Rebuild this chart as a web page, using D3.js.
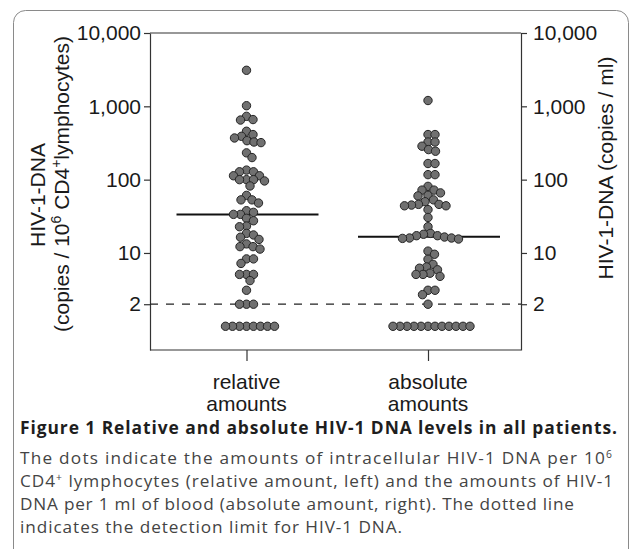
<!DOCTYPE html>
<html>
<head>
<meta charset="utf-8">
<script src="https://cdn.jsdelivr.net/npm/d3@7/dist/d3.min.js"></script>
<style>
  body { margin: 0; background: #fff; }
  svg { display: block; }
</style>
</head>
<body>
<svg id="chart" width="635" height="549"></svg>
<script>
// Values (copies, log scale)
const categories = ["relative", "absolute"];
const categoryLabels = [["relative", "amounts"], ["absolute", "amounts"]];
const relativeValues = [
  3100, 1020, 730, 660, 650, 457, 412, 390, 370, 340, 326, 320, 232, 200,
  135, 128, 128, 113, 113, 100, 100, 100, 96, 82, 61, 53, 53, 48,
  37.7, 35.8, 33.6, 33.6, 29.7, 27.5, 23.3, 22.8, 18.5, 17.6, 16.4, 15.3,
  13.3, 12.2, 12.2, 11.3, 8.3, 8.3, 7.2, 5.1, 5.1, 5.1, 4.2, 3.1, 2, 2, 2,
  1, 1, 1, 1, 1, 1, 1, 1
];
const absoluteValues = [
  1200, 412, 412, 326, 326, 286, 257, 244, 166, 166, 117, 117, 81,
  72, 72, 66, 61, 60, 53, 50, 46, 46, 45, 44, 44, 39, 30.5, 22.8,
  18.5, 18, 17.2, 17.2, 16.5, 16, 16, 15.8, 15.5,
  10.6, 9.6, 8.2, 7.0, 6.45, 6.2, 5.9, 5.3, 5.1, 5.1, 4.8, 3.1, 3.1, 2.7, 2,
  1, 1, 1, 1, 1, 1, 1, 1, 1, 1, 1, 1
];
const medians = [33.6, 16.7];
const detectionLimit = 2;
const yTickValues = [2, 10, 100, 1000, 10000];
const leftTitle = "HIV-1-DNA";
const rightTitle = "HIV-1-DNA (copies / ml)";
const captionTitle = "Figure 1 Relative and absolute HIV-1 DNA levels in all patients.";
const captionLines = [
  [["The dots indicate the amounts of intracellular HIV-1 DNA per 10"], ["6", "sup"]],
  [["CD4"], ["+", "sup"], [" lymphocytes (relative amount, left) and the amounts of HIV-1"]],
  [["DNA per 1 ml of blood (absolute amount, right). The dotted line"]],
  [["indicates the detection limit for HIV-1 DNA."]]
];

// Layout
const plotLeft = 150, plotRight = 521, plotTop = 33, plotBottom = 350;
const chartFont = "'Liberation Sans', Arial, Helvetica, sans-serif";
const captionFont = "'Open Sans', 'Noto Sans', sans-serif";
const dotR = 4.2, dotGap = 7;

let svg = d3.select("#chart");

// Outer rounded frame
svg.append("rect")
  .attr("x", 13.5).attr("y", 10.5)
  .attr("width", 615).attr("height", 560)
  .attr("rx", 12)
  .attr("fill", "none")
  .attr("stroke", "#8a8a8a")
  .attr("stroke-width", 1);

// Scales
let y = d3.scaleLog().domain([0.475, 10000]).range([plotBottom, plotTop]);
let x = d3.scalePoint().domain(categories).range([246.5, 428]);

// Plot box top line
svg.append("line")
  .attr("x1", plotLeft).attr("x2", plotRight)
  .attr("y1", plotTop).attr("y2", plotTop)
  .attr("stroke", "#333").attr("stroke-width", 1.2);

// Left axis
let leftAxis = svg.append("g")
  .attr("transform", `translate(${plotLeft},0)`)
  .call(d3.axisLeft(y).tickValues(yTickValues).tickFormat(d3.format(",")).tickSize(6).tickSizeOuter(0).tickPadding(3));

// Right axis
let rightAxis = svg.append("g")
  .attr("transform", `translate(${plotRight},0)`)
  .call(d3.axisRight(y).tickValues(yTickValues).tickFormat(d3.format(",")).tickSize(6).tickSizeOuter(0).tickPadding(6));

// Bottom axis
let bottomAxis = svg.append("g")
  .attr("transform", `translate(0,${plotBottom})`)
  .call(d3.axisBottom(x).tickSize(11).tickSizeOuter(0).tickFormat(""));
bottomAxis.select(".domain").remove();
svg.append("line")
  .attr("x1", plotLeft).attr("x2", plotRight)
  .attr("y1", plotBottom).attr("y2", plotBottom)
  .attr("stroke", "#333").attr("stroke-width", 1.2);

[leftAxis, rightAxis, bottomAxis].forEach(function (g) {
  g.selectAll("path.domain").attr("stroke", "#333").attr("stroke-width", 1.2);
  g.selectAll(".tick line").attr("stroke", "#333").attr("stroke-width", 1.2);
  g.selectAll(".tick text")
    .attr("font-family", chartFont)
    .attr("font-size", 21)
    .attr("fill", "#1a1a1a");
});

// Category labels (two lines)
categories.forEach(function (c, i) {
  let t = svg.append("text")
    .attr("x", x(c))
    .attr("y", 389)
    .attr("text-anchor", "middle")
    .attr("font-family", chartFont)
    .attr("font-size", 21)
    .attr("fill", "#1a1a1a");
  categoryLabels[i].forEach(function (line, j) {
    t.append("tspan").attr("x", x(c)).attr("dy", j === 0 ? 0 : 22).text(line);
  });
});

// Detection limit (dashed)
svg.append("line")
  .attr("x1", plotLeft).attr("x2", plotRight)
  .attr("y1", y(detectionLimit)).attr("y2", y(detectionLimit))
  .attr("stroke", "#222").attr("stroke-width", 1.2)
  .attr("stroke-dasharray", "8,8");

// Median lines
svg.append("g").selectAll("line")
  .data(categories)
  .enter()
  .append("line")
  .attr("x1", (d) => x(d) - 70)
  .attr("x2", (d) => x(d) + 72)
  .attr("y1", (d, i) => y(medians[i]))
  .attr("y2", (d, i) => y(medians[i]))
  .attr("stroke", "#111")
  .attr("stroke-width", 2);

// Beeswarm placement: each dot as near the column centre as possible
function swarm(values, cx) {
  let pts = values.map((v) => ({ v: v, y: y(v) })).sort((a, b) => a.y - b.y);
  let placed = [];
  pts.forEach(function (p) {
    for (let k = 0; ; k++) {
      let cands = k === 0 ? [0] : [k * 0.5, -k * 0.5];
      let found = null;
      for (let o of cands) {
        if (placed.every((q) => (q.dx - o) ** 2 + (q.y - p.y) ** 2 >= dotGap * dotGap)) {
          found = o;
          break;
        }
      }
      if (found !== null) { p.dx = found; break; }
    }
    placed.push(p);
  });
  pts.forEach((p) => (p.x = cx + p.dx));
  return pts;
}

let series = [relativeValues, absoluteValues];
series.forEach(function (vals, i) {
  svg.append("g").selectAll("circle")
    .data(swarm(vals, x(categories[i])))
    .enter()
    .append("circle")
    .attr("cx", (d) => d.x)
    .attr("cy", (d) => d.y)
    .attr("r", dotR)
    .attr("fill", "#707070")
    .attr("stroke", "#262626")
    .attr("stroke-width", 1);
});

// Axis titles
svg.append("text")
  .attr("transform", "translate(45,195) rotate(-90)")
  .attr("text-anchor", "middle")
  .attr("font-family", chartFont)
  .attr("font-size", 21)
  .attr("fill", "#1a1a1a")
  .text(leftTitle);

let lt2 = svg.append("text")
  .attr("transform", "translate(69,184) rotate(-90)")
  .attr("text-anchor", "middle")
  .attr("font-family", chartFont)
  .attr("font-size", 21)
  .attr("fill", "#1a1a1a");
lt2.append("tspan").text("(copies / 10");
lt2.append("tspan").attr("dy", -8).attr("font-size", 14).text("6");
lt2.append("tspan").attr("dy", 8).text(" CD4");
lt2.append("tspan").attr("dy", -8).attr("font-size", 14).text("+");
lt2.append("tspan").attr("dy", 8).text("lymphocytes)");

svg.append("text")
  .attr("transform", "translate(613,168) rotate(-90)")
  .attr("text-anchor", "middle")
  .attr("font-family", chartFont)
  .attr("font-size", 21)
  .attr("fill", "#1a1a1a")
  .text(rightTitle);

// Caption: fixed size, letter-spacing stretched to the reference line widths
function fitWidth(t, target) {
  let w = t.node().getComputedTextLength();
  let n = t.text().length;
  t.attr("letter-spacing", ((target - w) / (n - 1)).toFixed(3));
}

let cap = svg.append("text")
  .attr("x", 20).attr("y", 434)
  .attr("font-family", captionFont)
  .attr("font-weight", 700)
  .attr("font-size", 17.4)
  .attr("fill", "#1e1e1e")
  .text(captionTitle);
fitWidth(cap, 597);

let lineTargets = [592, 593, 554, 382];
captionLines.forEach(function (parts, i) {
  let t = svg.append("text")
    .attr("x", 20).attr("y", 458 + i * 23)
    .attr("font-family", captionFont)
    .attr("font-size", 17.2)
    .attr("fill", "#444");
  parts.forEach(function (p) {
    if (p[1] === "sup") {
      t.append("tspan").attr("dy", -6).attr("font-size", "0.6em").text(p[0]);
    } else {
      t.append("tspan").attr("dy", t.selectAll("tspan").size() ? 6 : 0).text(p[0]);
    }
  });
  fitWidth(t, lineTargets[i]);
});
</script>
</body>
</html>
